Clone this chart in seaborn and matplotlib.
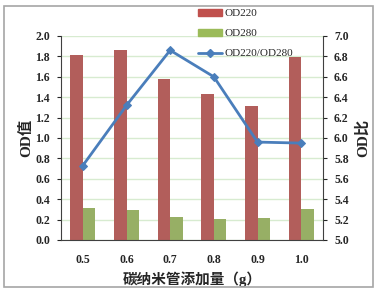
import matplotlib
matplotlib.use("Agg")
import matplotlib.pyplot as plt
import matplotlib.patches as mpatches
from matplotlib.lines import Line2D
import seaborn as sns
import numpy as np
import pandas as pd

# data
amounts = ["0.5", "0.6", "0.7", "0.8", "0.9", "1.0"]
od220 = [1.81, 1.86, 1.58, 1.43, 1.31, 1.79]
od280 = [0.31, 0.29, 0.225, 0.21, 0.215, 0.30]
ratio = [5.73, 6.32, 6.86, 6.60, 5.96, 5.95]

red = "#C0504D"
green = "#9BBB59"
blue = "#4A7EBB"
grid_c = "#D7EBD0"

sns.set_style("white")
plt.rcParams["font.family"] = ["Liberation Serif", "Noto Sans CJK SC"]
plt.rcParams["font.weight"] = "bold"

df = pd.DataFrame({
    "amount": amounts * 2,
    "od": od220 + od280,
    "series": ["OD220"] * len(amounts) + ["OD280"] * len(amounts),
})

fig = plt.figure(figsize=(3.77, 2.92), dpi=100)
ax = fig.add_axes([61 / 377, 1 - 240 / 292, 262 / 377, 204 / 292])

sns.barplot(data=df, x="amount", y="od", hue="series", order=amounts,
            palette=[red, green], width=0.58, gap=0, errorbar=None,
            linewidth=0, ax=ax, legend=False, zorder=2)

ax.set_ylim(0, 2.0)
ax.set_xlim(-0.5, 5.5)
ax.set_yticks(np.arange(0, 2.01, 0.2))
ax.set_yticklabels([f"{v:.1f}" for v in np.arange(0, 2.01, 0.2)])
ax.yaxis.grid(True, color=grid_c, linewidth=1.0, zorder=0)
ax.set_axisbelow(True)
ax.tick_params(axis="y", labelsize=8.5, length=3, direction="out", width=0.8, pad=5)
ax.tick_params(axis="x", which="major", labelsize=8.5, length=0, pad=10)
ax.set_xticks(np.arange(-0.5, 6, 1), minor=True)
ax.tick_params(axis="x", which="minor", length=3, direction="in", width=0.8)
for lab in ax.get_xticklabels() + ax.get_yticklabels():
    lab.set_fontweight("bold")

for s in ["left", "bottom"]:
    ax.spines[s].set_color("#404040")
    ax.spines[s].set_linewidth(0.8)
ax.spines["top"].set_visible(False)
ax.spines["right"].set_visible(False)

ax.set_xlabel("碳纳米管添加量（g）", fontsize=10.5, fontweight="bold", labelpad=4)
ax.set_ylabel("OD值", fontsize=11, fontweight="bold", labelpad=1)

ax2 = ax.twinx()
sns.lineplot(x=np.arange(len(amounts)), y=ratio, ax=ax2, color=blue,
             linewidth=2, marker="D", markersize=4.5, markeredgecolor=blue,
             zorder=5)
ax2.set_ylim(5.0, 7.0)
ax2.set_yticks(np.arange(5.0, 7.01, 0.2))
ax2.set_yticklabels([f"{v:.1f}" for v in np.arange(5.0, 7.01, 0.2)])
ax2.tick_params(axis="y", labelsize=8.5, length=3, direction="out", width=0.8, pad=5)
for lab in ax2.get_yticklabels():
    lab.set_fontweight("bold")
for s in ["left", "top", "bottom"]:
    ax2.spines[s].set_visible(False)
ax2.spines["right"].set_color("#404040")
ax2.spines["right"].set_linewidth(0.8)
ax2.set_ylabel("OD比", fontsize=11, fontweight="bold", rotation=90, labelpad=5)
ax2.set_xlim(-0.5, 5.5)

handles = [
    mpatches.Patch(color=red, label="OD220"),
    mpatches.Patch(color=green, label="OD280"),
    Line2D([0], [0], color=blue, linewidth=2, marker="D", markersize=4.5,
           label="OD220/OD280"),
]
fig.legend(handles=handles, loc="upper left", bbox_to_anchor=(198 / 377, 1 - 9 / 292),
           frameon=False, handlelength=2.2, handleheight=0.6,
           labelspacing=0.95, handletextpad=0.2, borderpad=0, borderaxespad=0,
           prop={"family": "Liberation Serif", "size": 8, "weight": "normal"})

fig.patches.append(mpatches.Rectangle((4 / 377, 5 / 292), 369 / 377, 281 / 292,
                                      transform=fig.transFigure, fill=False,
                                      edgecolor="#A6A6A6", linewidth=1.2))

fig.savefig("out.png", dpi=100)
